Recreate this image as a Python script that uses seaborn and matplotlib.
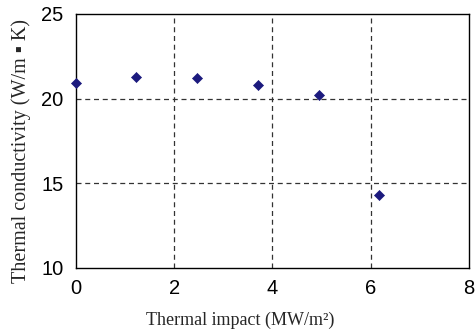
import matplotlib
matplotlib.use("Agg")
import matplotlib.pyplot as plt
import seaborn as sns
import pandas as pd

# data
impact = [0.0, 1.23, 2.47, 3.70, 4.94, 6.17]
conductivity = [20.92, 21.27, 21.21, 20.82, 20.24, 14.33]
x_ticks = [0, 2, 4, 6, 8]
y_ticks = [10, 15, 20, 25]

sns.set_style("white")
plt.rcParams["font.family"] = ["Liberation Sans", "DejaVu Sans"]

df = pd.DataFrame({"impact": impact, "conductivity": conductivity})

fig = plt.figure(figsize=(4.75, 3.32), dpi=100)
ax = fig.add_axes([0.160, 0.193, 0.827, 0.765])

sns.scatterplot(data=df, x="impact", y="conductivity", ax=ax,
                marker="D", s=26, color="#1c1a7e", edgecolor="#1c1a7e",
                linewidth=0.5, zorder=3, clip_on=False)

ax.set_xlim(0, 8)
ax.set_ylim(10, 25)
ax.set_xticks(x_ticks)
ax.set_yticks(y_ticks)

# dashed grid only on interior ticks
for xv in x_ticks[1:-1]:
    ax.axvline(xv, color="#333333", linestyle=(0, (4, 3)), linewidth=0.9, zorder=1)
for yv in y_ticks[1:-1]:
    ax.axhline(yv, color="#333333", linestyle=(0, (4, 3)), linewidth=0.9, zorder=1)

for sp in ax.spines.values():
    sp.set_color("black")
    sp.set_linewidth(1.0)
    sp.set_visible(True)

ax.tick_params(axis="both", length=0, labelsize=14.5, colors="black")
ax.tick_params(axis="y", pad=9)
ax.tick_params(axis="x", pad=8)

ax.set_xlabel("Thermal impact (MW/m\u00b2)", fontsize=13,
              family=["Liberation Serif", "DejaVu Sans"])
ax.set_ylabel("Thermal conductivity (W/m \u25aa K)", fontsize=14.5,
              family=["Liberation Serif", "DejaVu Sans"])
# labels are centred on the chart area rather than the plot area
ax.xaxis.set_label_coords(0.417, -0.172)
ax.yaxis.set_label_coords(-0.115, 0.459)

fig.savefig("out.png", dpi=100)
